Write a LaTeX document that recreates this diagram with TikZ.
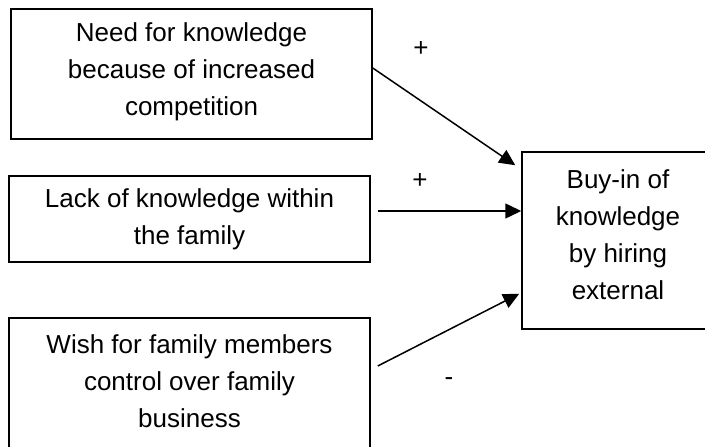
\documentclass[tikz,border=0pt]{standalone}
\usepackage{fontspec}
\setmainfont{Liberation Sans}
\usetikzlibrary{arrows.meta}

\begin{document}
\begin{tikzpicture}[x = 1pt, y = -1pt, line width = 1.5pt]

	% Definitions

	\def\W{361pt}		% Width of the factor boxes
	\tikzset{factor/.style = {draw, inner sep = 0, align = center, font = \fontsize{26}{37}\selectfont}}
	\tikzset{sign/.style = {inner sep = 0, font = \fontsize{26}{37}\selectfont}}
	\tikzset{effect/.style = {-{Triangle[length = 16pt, width = 15pt]}}}

	\clip (0, 0) rectangle (705, 447);

	% Factor boxes

	\node [factor, minimum width = \W, minimum height = 130pt, text depth = 10pt] (need) at (191.5, 74) {Need for knowledge\\because of increased\\competition};
	\node [factor, minimum width = \W, minimum height = 86pt] (lack) at (189.5, 219) {Lack of knowledge within\\the family};
	\node [factor, minimum width = \W, minimum height = 134pt, text depth = 8pt] (wish) at (189.5, 385) {Wish for family members\\control over family\\business};

	% Outcome box

	\node [factor, minimum width = 192pt, minimum height = 177pt, text depth = 12pt] (buyin) at (618, 240.5) {Buy-in of\\knowledge\\by hiring\\external};

	% Arrows

	\draw [effect] ([yshift = 6pt] need.east) -- ([xshift = -6pt, yshift = -14pt] buyin.north west);
	\draw [effect] ([xshift = 7pt, yshift = 8pt] lack.east) -- ([yshift = 29.5pt] buyin.west);
	\draw [effect] ([xshift = 7pt, yshift = 19pt] wish.east) -- ([xshift = -2pt, yshift = 36pt] buyin.south west);

	% Signs

	\node [sign] (plusneed) at (421, 49) {+};
	\node [sign] (pluslack) at (420, 181) {+};
	\node [sign] (minuswish) at (449, 382) {-};

\end{tikzpicture}
\end{document}
